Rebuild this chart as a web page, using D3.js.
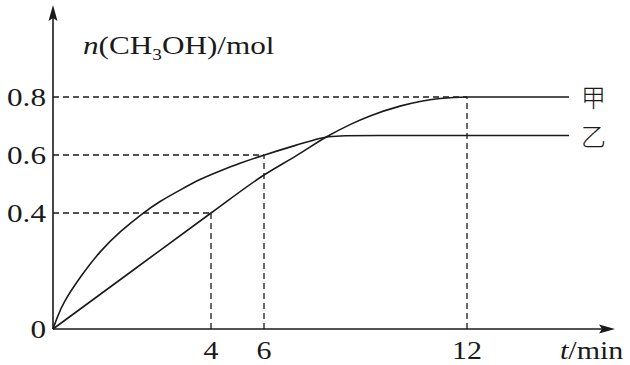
<!DOCTYPE html>
<html><head><meta charset="utf-8">
<script src="https://cdn.jsdelivr.net/npm/d3@7"></script>
<style>
html,body{margin:0;padding:0;background:#fff;}
svg{display:block;}
text{font-family:"Liberation Serif","Times New Roman",serif;fill:#1a1a1a;}
</style></head>
<body>
<svg id="c" width="630" height="365"></svg>
<script>
// ---- data ----
const xTicks = [4, 6, 12];
const yTicks = [0.4, 0.6, 0.8];
const jiaT = [0, 2, 4, 6, 6.946, 7.892, 8.542, 9.133, 10.02, 10.611, 11.202, 12, 15];
const jiaV = [0, 0.2, 0.4, 0.531, 0.597, 0.6655, 0.7048, 0.7345, 0.7686, 0.7845, 0.7948, 0.8, 0.8];
const yiT  = [0, 0.101, 0.253, 0.684, 1.19, 1.696, 2.278, 2.709, 3.215, 3.722, 4.34, 5.094, 6, 6.946, 7.507, 7.892, 8.394, 9, 12, 15];
const yiV  = [0, 0.038, 0.0897, 0.179, 0.269, 0.336, 0.4, 0.441, 0.479, 0.517, 0.545, 0.572, 0.6, 0.634, 0.653, 0.664, 0.667, 0.667, 0.667, 0.667];
const guides = [{t: 4, v: 0.4}, {t: 6, v: 0.6}, {t: 12, v: 0.8}];
const seriesNames = ["甲", "乙"];

const svg = d3.select("#c");
const ink = "#1a1a1a";
const x = d3.scaleLinear().domain([0, 4, 6, 12, 15]).range([53, 211, 264, 467, 569]);
const y = d3.scaleLinear().domain([0, 0.8]).range([329, 97]);
const x0 = x(0), y0 = y(0);
const SX = 1.2;

function txt(str, px, py, size, anchor, italic) {
  return svg.append("text")
    .attr("transform", `translate(${px},${py}) scale(${SX},1)`)
    .attr("font-size", size)
    .attr("text-anchor", anchor || "start")
    .attr("font-style", italic ? "italic" : "normal")
    .text(str);
}

// dashed guides
const dash = "6,4";
guides.forEach(g => {
  svg.append("line").attr("x1", x0).attr("x2", x(g.t)).attr("y1", y(g.v)).attr("y2", y(g.v))
    .attr("stroke", ink).attr("stroke-width", 1.3).attr("stroke-dasharray", dash);
  svg.append("line").attr("x1", x(g.t)).attr("x2", x(g.t)).attr("y1", y0).attr("y2", y(g.v))
    .attr("stroke", ink).attr("stroke-width", 1.3).attr("stroke-dasharray", dash);
});

// axes
svg.append("line").attr("x1", x0).attr("x2", 606).attr("y1", y0).attr("y2", y0).attr("stroke", ink).attr("stroke-width", 1.6);
svg.append("line").attr("x1", x0).attr("x2", x0).attr("y1", y0).attr("y2", 14).attr("stroke", ink).attr("stroke-width", 1.6);
svg.append("path").attr("d", `M615,${y0} L599,${y0 - 4.5} L602,${y0} L599,${y0 + 4.5} Z`).attr("fill", ink);
svg.append("path").attr("d", `M${x0},5 L${x0 - 4.5},21 L${x0},18 L${x0 + 4.5},21 Z`).attr("fill", ink);

// curves
const lineJia = d3.line().x(d => x(d[0])).y(d => y(d[1])).curve(d3.curveMonotoneX);
const lineYi = d3.line().x(d => x(d[0])).y(d => y(d[1])).curve(d3.curveBasis);
svg.append("path").attr("d", lineJia(jiaT.map((t, i) => [t, jiaV[i]])))
  .attr("fill", "none").attr("stroke", ink).attr("stroke-width", 1.6);
svg.append("path").attr("d", lineYi(yiT.map((t, i) => [t, yiV[i]])))
  .attr("fill", "none").attr("stroke", ink).attr("stroke-width", 1.6);

// tick labels
yTicks.forEach(v => txt(v.toFixed(1), 46, y(v) + 9, 26, "end"));
txt("0", 46, y0 + 9, 26, "end");
xTicks.forEach(t => txt(String(t), x(t), 359, 25, "middle"));

// axis titles
const title = svg.append("text")
  .attr("transform", `translate(83,54) scale(${SX},1)`).attr("font-size", 26);
title.append("tspan").attr("font-style", "italic").text("n");
title.append("tspan").text("(CH");
title.append("tspan").attr("font-size", 16).attr("dy", 6).text("3");
title.append("tspan").attr("dy", -6).text("OH)/mol");

const tl = svg.append("text")
  .attr("transform", `translate(560,359) scale(${SX},1)`).attr("font-size", 25);
tl.append("tspan").attr("font-style", "italic").text("t");
tl.append("tspan").text("/min");

// series labels
[[seriesNames[0], jiaV[jiaV.length - 1]], [seriesNames[1], yiV[yiV.length - 1]]].forEach(([n, v]) => {
  svg.append("text").attr("x", 581).attr("y", y(v) + 10).attr("font-size", 25)
    .style("font-family", '"Noto Sans CJK SC", sans-serif').attr("font-weight", 300).text(n);
});
</script>
</body></html>
